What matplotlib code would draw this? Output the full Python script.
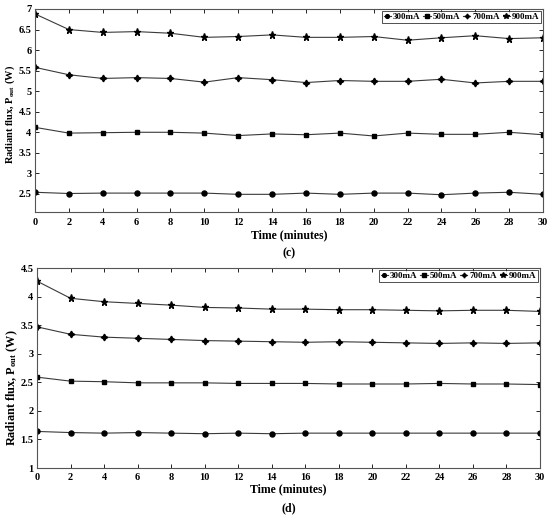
import matplotlib
matplotlib.use("Agg")
import matplotlib.pyplot as plt
import numpy as np

time_min = [0, 2, 4, 6, 8, 10, 12, 14, 16, 18, 20, 22, 24, 26, 28, 30]
labels = ["300mA", "500mA", "700mA", "900mA"]

c_300 = [2.54, 2.51, 2.52, 2.52, 2.52, 2.52, 2.49, 2.49, 2.52, 2.49, 2.52, 2.52, 2.48, 2.52, 2.54, 2.49]
c_500 = [4.12, 3.98, 3.99, 4.00, 4.00, 3.98, 3.92, 3.96, 3.94, 3.98, 3.91, 3.98, 3.95, 3.95, 4.00, 3.94]
c_700 = [5.58, 5.40, 5.31, 5.33, 5.31, 5.22, 5.33, 5.28, 5.21, 5.26, 5.24, 5.24, 5.29, 5.20, 5.24, 5.24]
c_900 = [6.88, 6.50, 6.43, 6.45, 6.41, 6.31, 6.33, 6.37, 6.31, 6.31, 6.33, 6.24, 6.30, 6.35, 6.28, 6.30]

d_300 = [1.64, 1.62, 1.61, 1.62, 1.61, 1.60, 1.61, 1.60, 1.61, 1.61, 1.61, 1.61, 1.61, 1.61, 1.61, 1.61]
d_500 = [2.59, 2.52, 2.51, 2.49, 2.49, 2.49, 2.48, 2.48, 2.48, 2.47, 2.47, 2.47, 2.48, 2.47, 2.47, 2.46]
d_700 = [3.47, 3.34, 3.29, 3.27, 3.25, 3.23, 3.22, 3.21, 3.20, 3.21, 3.20, 3.19, 3.18, 3.19, 3.18, 3.19]
d_900 = [4.27, 3.97, 3.91, 3.88, 3.85, 3.81, 3.80, 3.78, 3.78, 3.77, 3.77, 3.76, 3.75, 3.76, 3.76, 3.74]

plt.rcParams['font.family'] = ['Liberation Serif', 'DejaVu Serif']
plt.rcParams['font.weight'] = 'bold'
plt.rcParams['mathtext.fontset'] = 'custom'
plt.rcParams['mathtext.rm'] = 'Liberation Serif:bold'
plt.rcParams['mathtext.bf'] = 'Liberation Serif:bold'
plt.rcParams['mathtext.default'] = 'rm'

markers = ['o', 's', (4, 1, 0), '*']
msizes = [3.6, 3.2, 4.8, 5.2]

fig = plt.figure(figsize=(5.5, 5.16), dpi=100)
W, H = 550, 516

def make_ax(rect_px, series, ylim, yticks, panel, xlab_y, panel_y,
            ylab_xy, ylab_size, xpad):
    l, t, r, b = rect_px
    ax = fig.add_axes([l / W, 1 - b / H, (r - l) / W, (b - t) / H])
    for s, m, ms, lab in zip(series, markers, msizes, labels):
        ax.plot(time_min, s, color='#3a3a3a', lw=0.8, marker=m, ms=ms,
                mfc='black', mec='black', label=lab)
    ax.set_xlim(0, 30)
    ax.set_ylim(*ylim)
    ax.set_xticks(np.arange(0, 31, 2))
    ax.set_yticks(yticks)
    ax.set_yticklabels([('%g' % v) for v in yticks])
    ax.tick_params(direction='in', top=True, right=True, length=3, width=0.6,
                   labelsize=7.5)
    ax.tick_params(axis='x', pad=xpad)
    ax.tick_params(axis='y', pad=2.5)
    for tl in ax.get_xticklabels() + ax.get_yticklabels():
        tl.set_fontweight('bold')
    for sp in ax.spines.values():
        sp.set_linewidth(0.8)
        sp.set_color('#555555')
    fig.text(ylab_xy[0] / W, 1 - ylab_xy[1] / H,
             r'Radiant flux, P$_{\mathrm{out}}$ (W)', rotation=90,
             ha='center', va='center', fontsize=ylab_size, fontweight='bold')
    fig.text((l + r) / 2 / W, 1 - xlab_y / H, 'Time (minutes)', ha='center',
             va='center', fontsize=8.5, fontweight='bold')
    leg = ax.legend(loc='upper right', ncol=4, fontsize=6.5, frameon=True,
                    fancybox=False, edgecolor='black', handlelength=0.8,
                    handletextpad=0.2, columnspacing=0.35, borderpad=0.2,
                    borderaxespad=0.2, markerscale=0.75)
    leg.get_frame().set_linewidth(0.6)
    for txt in leg.get_texts():
        txt.set_fontweight('bold')
    fig.text((l + r) / 2 / W, 1 - panel_y / H, panel, ha='center', va='center',
             fontsize=8.5)
    return ax

make_ax((35, 9, 543, 212), [c_300, c_500, c_700, c_900], (2.06, 7.0),
        np.arange(2.5, 7.01, 0.5), '(c)', 235, 253, (10, 114), 7.5, 4.5)
make_ax((37, 268, 540, 468), [d_300, d_500, d_700, d_900], (1.0, 4.5),
        np.arange(1.0, 4.51, 0.5), '(d)', 489, 508, (12, 388), 8.8, 3.8)

fig.savefig('out.png', dpi=100)
